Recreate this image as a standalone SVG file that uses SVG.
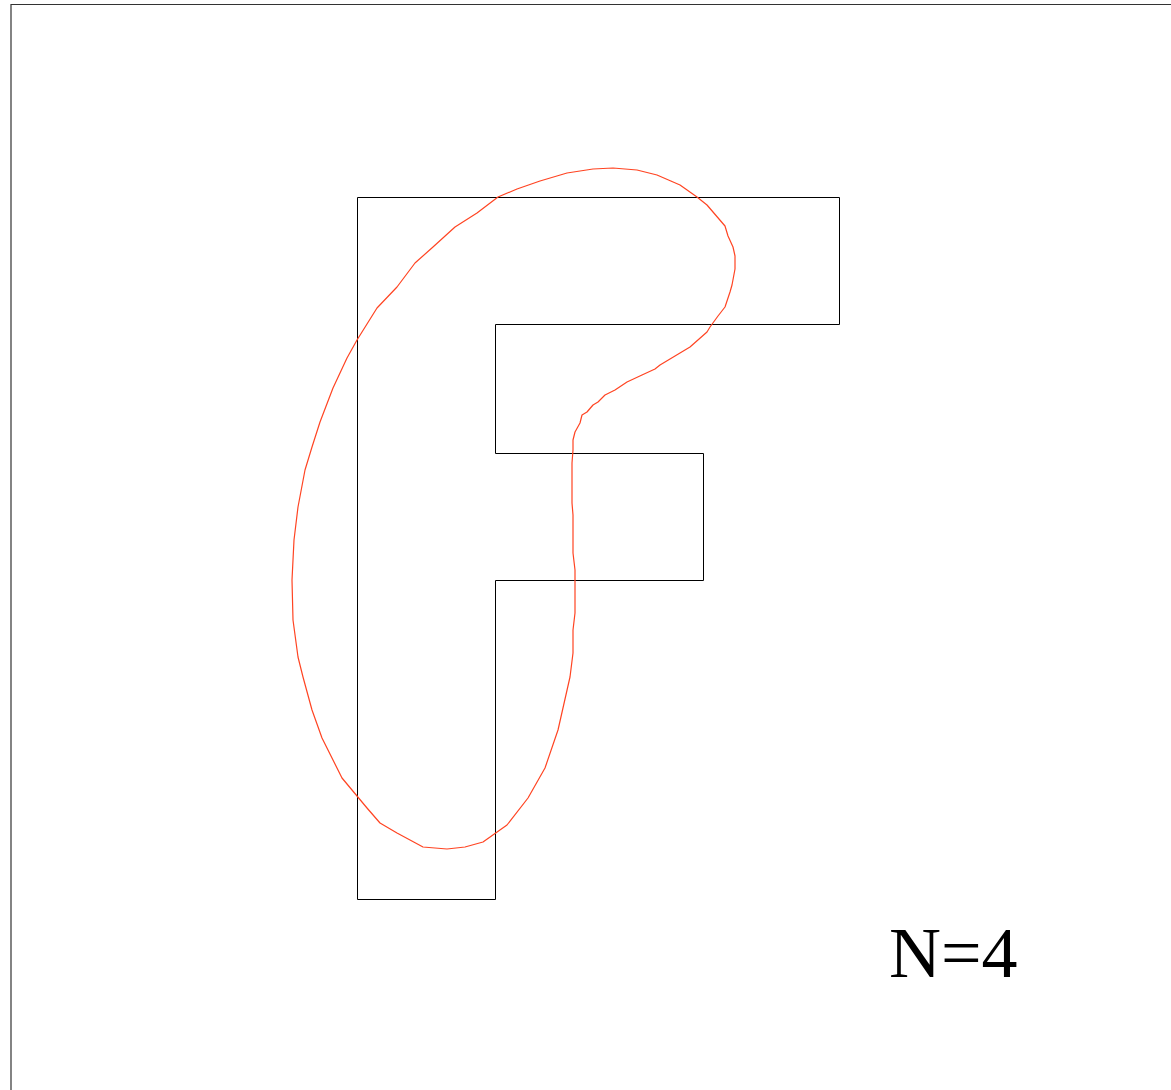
<svg xmlns="http://www.w3.org/2000/svg" width="1171" height="1090" viewBox="0 0 1171 1090">
<style>
.frame{fill:none;stroke:#333;stroke-width:1.2}
.shape{fill:none;stroke:#000;stroke-width:1}
.curve{fill:none;stroke:#ff4422;stroke-width:1.2;stroke-linejoin:round}
.label{font-family:"Liberation Serif","Times New Roman",serif;font-size:72px;fill:#000}
</style>
<rect width="1171" height="1090" fill="#fff"/>
<path class="frame" d="M11,1090 V4.5 H1171"/>
<g id="f-shape">
<polygon class="shape" points="357.5,197.5 839.5,197.5 839.5,324.5 495.5,324.5 495.5,453.5 703.5,453.5 703.5,580.5 495.5,580.5 495.5,899.5 357.5,899.5"/>
</g>
<g id="curve">
<path class="curve" d="M613,168 L637,170 L657,175 L680,185 L697,197 L707,205 L725,226 L728,236 L733,247 L735,256 L735,269 L732,285 L730,292 L725,307 L718,316 L710,327 L707,332 L690,347 L675,356 L660,365 L655,369 L642,375 L627,382 L615,390 L605,395 L598,402 L593,405 L587,412 L582,415 L580,423 L575,432 L573,440 L573,450 L572,463 L572,503 L573,515 L573,553 L575,570 L575,613 L573,630 L573,653 L570,677 L558,730 L545,768 L528,798 L507,825 L483,842 L465,847 L447,849 L423,847 L397,833 L380,823 L367,808 L342,778 L322,738 L312,710 L303,677 L298,657 L293,620 L292,580 L294,540 L298,507 L305,470 L312,447 L320,422 L333,388 L347,358 L357,340 L377,308 L397,287 L415,263 L433,247 L455,227 L477,213 L498,197 L517,189 L540,181 L567,173 L593,169 Z"/>
</g>
<text class="label" x="889" y="977">N=4</text>
</svg>
